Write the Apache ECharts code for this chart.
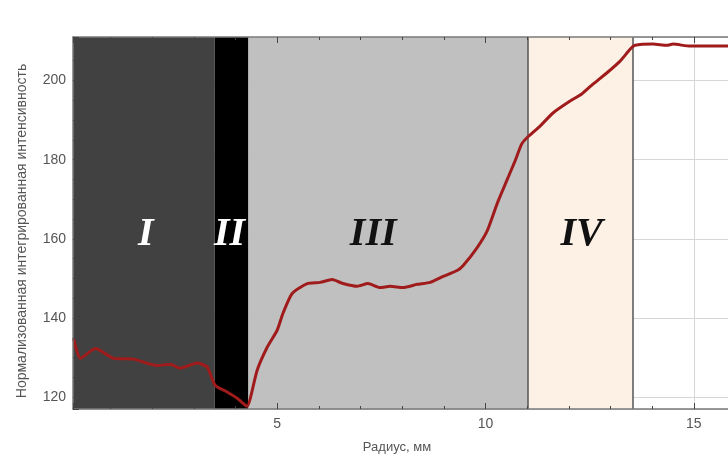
<!DOCTYPE html>
<html>
<head>
<meta charset="utf-8">
<title>Радиальный профиль интенсивности</title>
<script src="https://cdn.jsdelivr.net/npm/echarts@6/dist/echarts.min.js"></script>
<style>
  html, body { margin: 0; padding: 0; background: #fff; }
  #chart { width: 728px; height: 461px; }
</style>
</head>
<body>
<div id="chart"></div>
<script>
// радиус, мм
var radius = [0.11, 0.28, 0.64, 1.07, 1.55, 2.12, 2.43, 2.67, 3.08, 3.32, 3.51, 3.80, 4.04, 4.23, 4.28,
    4.52, 4.76, 5.00, 5.14, 5.36, 5.72, 6.03, 6.32, 6.58, 6.92, 7.18, 7.47, 7.71, 8.02, 8.36, 8.67,
    8.98, 9.32, 9.46, 9.80, 10.04, 10.28, 10.51, 10.71, 10.87, 11.02, 11.31, 11.62, 12.03, 12.31,
    12.58, 12.91, 13.23, 13.47, 13.59, 14.02, 14.35, 14.50, 14.91, 15.40, 15.82];
// нормализованная интегрированная интенсивность
var intensity = [134.9, 129.8, 132.3, 129.8, 129.6, 128.0, 128.3, 127.3, 128.6, 127.6, 123.0, 121.3, 119.7, 118.0, 117.7,
    126.8, 132.6, 136.9, 141.2, 146.2, 148.7, 149.0, 149.7, 148.7, 148.0, 148.7, 147.7, 148.0, 147.7, 148.5, 149.0,
    150.5, 152.0, 153.2, 157.8, 162.0, 168.9, 174.7, 179.7, 184.0, 185.8, 188.5, 191.8, 194.8, 196.6,
    199.1, 201.9, 204.9, 207.9, 208.9, 209.2, 208.9, 209.2, 208.7, 208.7, 208.7];

// зоны
var zoneNames = ['I', 'II', 'III', 'IV'];
var zoneStart = [0.1, 3.5, 4.31, 11.02];
var zoneEnd = [3.5, 4.31, 11.02, 13.54];
var borderLines = [11.02, 13.54];

var xRange = [0.1, 15.82];
var yRange = [117, 211];

var zoneColors = ['#414141', '#000000', '#c0c0c0', '#fdf0e5'];
var zoneTextColors = ['#ffffff', '#ffffff', '#111111', '#111111'];
var zoneLabelOffset = [[2, 12], [-2, 12], [-15, 12], [1, 12]];

var fontFamily = '"Liberation Sans", Arial, sans-serif';

var myChart = echarts.init(document.getElementById('chart'));

var areaData = zoneNames.map(function (name, i) {
    return [{
        name: name,
        xAxis: zoneStart[i],
        itemStyle: { color: zoneColors[i] },
        label: {
            show: true,
            position: 'inside',
            offset: zoneLabelOffset[i],
            color: zoneTextColors[i],
            fontFamily: '"Liberation Serif", "Times New Roman", serif',
            fontStyle: 'italic',
            fontWeight: 'bold',
            fontSize: 40
        }
    }, {
        xAxis: zoneEnd[i]
    }];
});

var lineData = borderLines.map(function (v) {
    return { xAxis: v };
});

// видимая ось (над зонами)
function visibleX(pos, withLabels) {
    return {
        type: 'value',
        position: pos,
        min: xRange[0],
        max: xRange[1],
        minInterval: 5,
        maxInterval: 5,
        z: 10,
        axisLine: { show: true, lineStyle: { color: '#7a7a7a', width: 1.5 } },
        axisTick: { show: true, inside: true, length: 6, lineStyle: { color: '#444' } },
        minorTick: { show: true, splitNumber: 5, length: 3, lineStyle: { color: '#444' } },
        axisLabel: {
            show: withLabels,
            showMinLabel: false,
            showMaxLabel: false,
            fontSize: 14,
            color: '#555',
            fontFamily: fontFamily,
            margin: 8
        },
        splitLine: { show: false }
    };
}

var option = {
    animation: false,
    backgroundColor: '#ffffff',
    grid: { left: 73, top: 37, right: 0, height: 372 },
    xAxis: [
        Object.assign(visibleX('bottom', true), {
            name: 'Радиус, мм',
            nameLocation: 'middle',
            nameGap: 32,
            nameTextStyle: { fontSize: 13, color: '#555', fontFamily: fontFamily, padding: [0, 7, 0, 0] }
        }),
        visibleX('top', false),
        // сетка (под зонами)
        {
            type: 'value', position: 'bottom', min: xRange[0], max: xRange[1],
            minInterval: 5, maxInterval: 5, z: 0,
            axisLine: { show: false }, axisTick: { show: false }, axisLabel: { show: false },
            splitLine: { show: true, lineStyle: { color: '#d6d6d6', width: 1 } }
        }
    ],
    yAxis: [
        {
            type: 'value',
            min: yRange[0],
            max: yRange[1],
            minInterval: 20,
            maxInterval: 20,
            z: 10,
            name: 'Нормализованная интегрированная интенсивность',
            nameLocation: 'middle',
            nameGap: 44,
            nameTextStyle: { fontSize: 14, color: '#555', fontFamily: fontFamily, padding: [0, 16, 0, 0] },
            axisLine: { show: true, lineStyle: { color: '#7a7a7a', width: 1.5 } },
            axisTick: { show: true, inside: true, length: 6, lineStyle: { color: '#444' } },
            minorTick: { show: true, splitNumber: 4, length: 3, lineStyle: { color: '#444' } },
            axisLabel: {
                showMinLabel: false,
                showMaxLabel: false,
                fontSize: 14,
                color: '#555',
                fontFamily: fontFamily,
                margin: 7
            },
            splitLine: { show: false }
        },
        {
            type: 'value', min: yRange[0], max: yRange[1],
            minInterval: 20, maxInterval: 20, z: 0,
            axisLine: { show: false }, axisTick: { show: false }, axisLabel: { show: false },
            splitLine: { show: true, lineStyle: { color: '#d6d6d6', width: 1 } }
        }
    ],
    series: [{
        type: 'line',
        xAxisIndex: 0,
        yAxisIndex: 0,
        data: radius.map(function (r, i) { return [r, intensity[i]]; }),
        showSymbol: false,
        smooth: 0.2,
        z: 5,
        lineStyle: { color: '#a01b1b', width: 3 },
        markArea: {
            silent: true,
            z: 1,
            data: areaData
        },
        markLine: {
            silent: true,
            symbol: 'none',
            label: { show: false },
            lineStyle: { color: '#555', width: 1.5, type: 'solid' },
            data: lineData
        }
    }]
};

myChart.setOption(option);
</script>
</body>
</html>
